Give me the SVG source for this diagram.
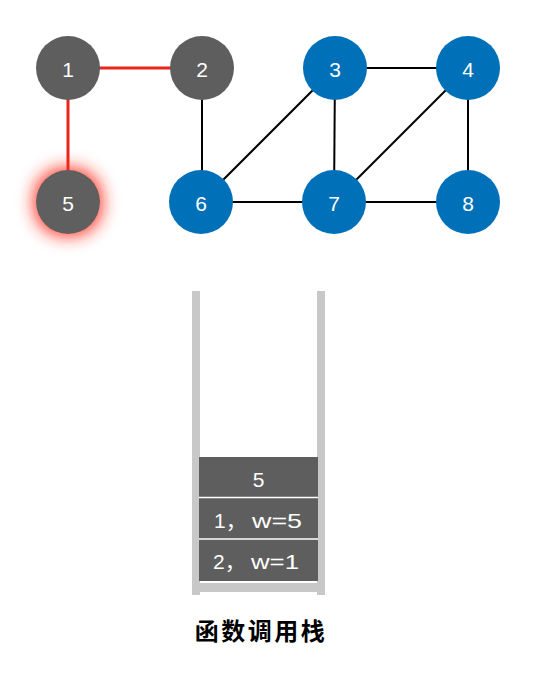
<svg xmlns="http://www.w3.org/2000/svg" width="540" height="676" viewBox="0 0 540 676">
<style>
.gray{fill:#5e5e5e}
.blue{fill:#0070b8}
.lbl{font-family:"Helvetica Neue","Liberation Sans",Arial,sans-serif;font-size:21px;fill:#fff;text-anchor:middle;dominant-baseline:central}
.st{font-family:"Liberation Sans","Noto Sans CJK SC",sans-serif;font-size:21px;fill:#fff;dominant-baseline:central}
.edge{stroke:#000;stroke-width:2;fill:none}
.red{stroke:#e8261a;stroke-width:3;fill:none}
.wall{fill:#c8c8c8}
.box{fill:#5e5e5e}
.sep{stroke:#fff;stroke-width:1.5}
.cap{font-family:"Liberation Sans","Noto Sans CJK SC",sans-serif;font-size:24px;font-weight:bold;fill:#000;text-anchor:middle;letter-spacing:2.5px}
</style>
<defs>
<filter id="glow" x="-100%" y="-100%" width="300%" height="300%">
<feMorphology in="SourceAlpha" operator="dilate" radius="3" result="d"/>
<feGaussianBlur in="d" stdDeviation="8" result="b"/>
<feFlood flood-color="#ff2a1a" flood-opacity="0.85"/>
<feComposite in2="b" operator="in" result="g"/>
<feMerge><feMergeNode in="g"/><feMergeNode in="SourceGraphic"/></feMerge>
</filter>
</defs>
<g id="connectors">
<line class="red" x1="68" y1="68" x2="202" y2="68"/>
<line class="red" x1="68" y1="68" x2="68" y2="202"/>
<line class="edge" x1="202" y1="68" x2="202" y2="202"/>
<line class="edge" x1="335" y1="68" x2="468" y2="68"/>
<line class="edge" x1="335" y1="68" x2="201" y2="202"/>
<line class="edge" x1="335" y1="68" x2="334" y2="202"/>
<line class="edge" x1="468" y1="68" x2="334" y2="202"/>
<line class="edge" x1="468" y1="68" x2="468" y2="202"/>
<line class="edge" x1="201" y1="202" x2="468" y2="202"/>
</g>
<g id="n1"><circle class="gray" cx="68" cy="68" r="32"/><text class="lbl" x="68" y="69">1</text></g>
<g id="n2"><circle class="gray" cx="202" cy="68" r="32"/><text class="lbl" x="202" y="69">2</text></g>
<g id="n3"><circle class="blue" cx="335" cy="68" r="32"/><text class="lbl" x="335" y="69">3</text></g>
<g id="n4"><circle class="blue" cx="468" cy="68" r="32"/><text class="lbl" x="468" y="69">4</text></g>
<g id="n5"><circle class="gray" cx="68" cy="202" r="32" filter="url(#glow)"/><text class="lbl" x="68" y="203">5</text></g>
<g id="n6"><circle class="blue" cx="201" cy="202" r="32"/><text class="lbl" x="201" y="203">6</text></g>
<g id="n7"><circle class="blue" cx="334" cy="202" r="32"/><text class="lbl" x="334" y="203">7</text></g>
<g id="n8"><circle class="blue" cx="468" cy="202" r="32"/><text class="lbl" x="468" y="203">8</text></g>
<g id="stack">
<rect class="wall" x="192" y="291" width="8" height="304"/>
<rect class="wall" x="317" y="291" width="8" height="304"/>
<rect class="wall" x="200" y="583" width="117" height="9"/>
<rect class="box" x="199" y="457" width="119" height="124"/>
<line class="sep" x1="199" y1="497.5" x2="318" y2="497.5"/>
<line class="sep" x1="199" y1="539" x2="318" y2="539"/>
<text class="lbl" x="258.5" y="479">5</text>
<text class="st" x="214" y="520">1，<tspan x="252" textLength="50" lengthAdjust="spacingAndGlyphs">w=5</tspan></text>
<text class="st" x="213" y="561">2，<tspan x="251" textLength="48" lengthAdjust="spacingAndGlyphs">w=1</tspan></text>
</g>
<text class="cap" x="261" y="640">函数调用栈</text>
</svg>
